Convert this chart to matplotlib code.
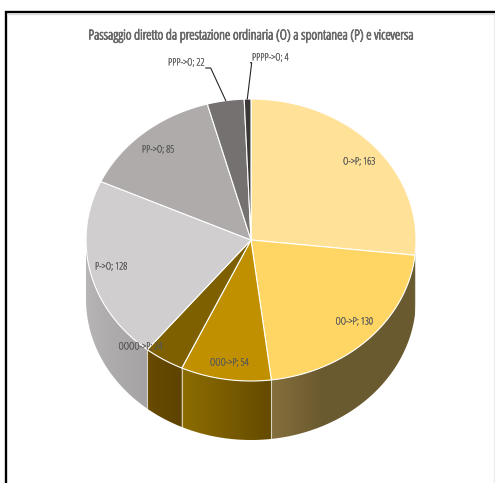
import matplotlib
matplotlib.use('Agg')
import matplotlib.pyplot as plt
import matplotlib.patheffects as pe
from matplotlib.colors import to_rgb
from matplotlib.patches import Polygon
import numpy as np

W, H = 495, 483

title = 'Passaggio diretto da prestazione ordinaria (O) a spontanea (P) e viceversa'
labels = ['O->P', 'OO->P', 'OOO->P', 'OOOO->P', 'P->O', 'PP->O', 'PPP->O', 'PPPP->O']
values = [163, 130, 54, 24, 128, 85, 22, 4]
top_colors = ['#ffe298', '#ffd664', '#c09000', '#7f6000', '#d0cece', '#afabab', '#767171', '#3b3838']
# wall shading, left / middle / right
side_stops = [
    ['#8f8a78', '#8f8a78', '#8f8a78'],
    ['#85703c', '#6b5a30', '#695a30'],
    ['#8a6d00', '#806100', '#644a00'],
    ['#6a4c00', '#644800', '#5e4400'],
    ['#b7b5b5', '#aeacac', '#a5a3a3'],
    ['#a09d9d', '#a09d9d', '#a09d9d'],
    ['#5a5656', '#5a5656', '#5a5656'],
    ['#2c2a2a', '#2c2a2a', '#2c2a2a'],
]
label_pos = [(359, 162), (354, 322), (229, 363), (140, 347), (111, 267), (158, 150), (186, 63), (270, 58)]

cx, cy, rx, ry, depth = 251, 240, 165, 141, 59


def rim(a):
    # angle in degrees, clockwise from twelve o'clock
    a = np.radians(a)
    return cx + rx * np.sin(a), cy - ry * np.cos(a)


def draw_side(ax, a0, a1, stops):
    # side wall: a horizontal gradient clipped to the wall outline
    lo, hi = max(a0, 90), min(a1, 270)
    if lo >= hi:
        return
    x, y = rim(np.linspace(lo, hi, 80))
    outline = np.column_stack([np.r_[x, x[::-1]], np.r_[y, y[::-1] + depth]])
    shape = Polygon(outline, closed=True, facecolor='none', edgecolor='none')
    ax.add_patch(shape)

    cols = np.array([to_rgb(c) for c in stops])
    t = np.linspace(0, 1, 256)
    grad = np.stack([np.interp(t, [0, 0.35, 1], cols[:, k]) for k in range(3)], axis=-1)
    im = ax.imshow(grad[np.newaxis, :, :], extent=[x.min(), x.max(), y.max() + depth, y.min()],
                   aspect='auto', interpolation='bilinear', zorder=2)
    im.set_clip_path(shape)


def main():
    fig = plt.figure(figsize=(W / 100, H / 100), dpi=100)
    ax = fig.add_axes([0, 0, 1, 1])
    ax.axis('off')

    # chart frame
    ax.plot([6.2, 6.2], [H, 11], color='black', lw=1.7, solid_capstyle='butt')
    ax.plot([5, W], [12.2, 12.2], color='black', lw=1.7, solid_capstyle='butt')
    ax.plot([8, W], [14.3, 14.3], color='#dcdcdc', lw=1)
    ax.plot([494, 494], [15, H], color='#ececec', lw=1)

    edges = np.concatenate([[0], np.cumsum(values)]) / sum(values) * 360

    for i in range(len(values)):
        a0, a1 = edges[i], edges[i + 1]
        draw_side(ax, a0, a1, side_stops[i])
        if 90 < a0 < 270:
            x, y = rim(a0)
            ax.plot([x, x], [y, y + depth], color='white', lw=0.8, alpha=0.65, zorder=3)

    for i in range(len(values)):
        a0, a1 = edges[i], edges[i + 1]
        t = np.linspace(a0, a1, 120)
        x, y = rim(t)
        ax.fill(np.r_[cx, x], np.r_[cy, y], facecolor=top_colors[i],
                edgecolor='white', lw=0.8, zorder=4, joinstyle='round')

    # leader lines for the two small slices
    ax.plot([205.7, 210.7, 225.7], [68, 68, 100.5], color='#262626', lw=0.8, zorder=5)
    ax.plot([250.5, 251.7, 247.3], [62.7, 62.7, 99], color='#262626', lw=0.8, zorder=5)

    for lab, val, (x, y) in zip(labels, values, label_pos):
        ax.text(x, y, '{}; {}'.format(lab, val), ha='center', va='center', fontsize=7.3,
                family='Open Sans', stretch='condensed', color='#595959', zorder=6,
                path_effects=[pe.withStroke(linewidth=0.15, foreground='#595959')])
    ax.text(251.5, 36, title, ha='center', va='center', fontsize=9.9, family='Open Sans',
            stretch='condensed', color='#6a6a6a', zorder=6,
            path_effects=[pe.withStroke(linewidth=0.6, foreground='#6a6a6a')])

    ax.set_xlim(0, W)
    ax.set_ylim(H, 0)
    fig.savefig('out.png', dpi=100)


if __name__ == '__main__':
    main()
